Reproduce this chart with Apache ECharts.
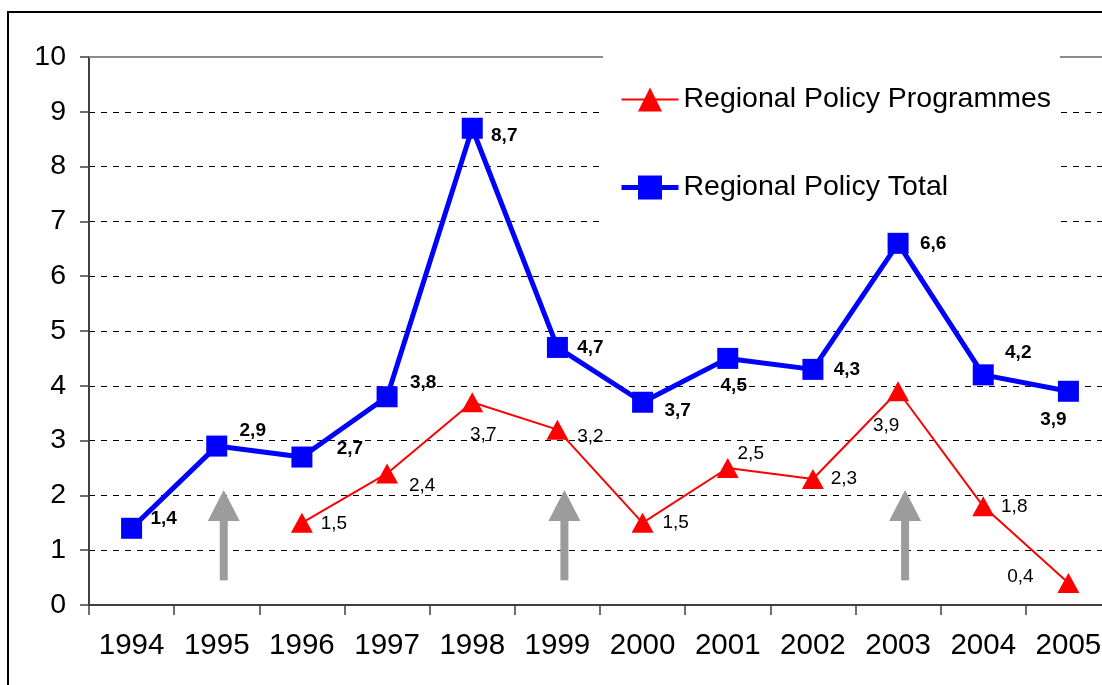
<!DOCTYPE html>
<html>
<head>
<meta charset="utf-8">
<script src="https://cdn.jsdelivr.net/npm/echarts@6/dist/echarts.min.js"></script>
<style>
  html, body { margin: 0; padding: 0; overflow: hidden; background: #fff; }
  #chart { width: 1120px; height: 685px; }
</style>
</head>
<body>
<div id="chart"></div>
<script>
const years = ['1994', '1995', '1996', '1997', '1998', '1999', '2000', '2001', '2002', '2003', '2004', '2005'];
const programmes = [null, null, 1.5, 2.4, 3.7, 3.2, 1.5, 2.5, 2.3, 3.9, 1.8, 0.4];
const total = [1.4, 2.9, 2.7, 3.8, 8.7, 4.7, 3.7, 4.5, 4.3, 6.6, 4.2, 3.9];
const yTicks = [0, 1, 2, 3, 4, 5, 6, 7, 8, 9, 10];

// gray arrows marking programme periods
const arrowYears = ['1995', '1999', '2003'];
const arrowFrom = [0.45, 0.45, 0.45];
const arrowTo = [2.1, 2.1, 2.1];

const FONT = '"Liberation Sans", Arial, sans-serif';

// label offsets (px) so labels sit where the original put them
const totalOffsets = [[32, -10], [36, -15], [48, -8], [36, -14], [32, 8], [33, 0],
  [35, 9], [6, 27], [34, 0], [35, 0], [35, -22], [-15, 28]];
const progOffsets = [null, null, [32, 1], [35, 12], [11, 33], [33, 7],
  [33, 0], [23, -14], [31, 0], [-12, 34], [31, 0], [-48, -6]];

const fmt = v => v.toFixed(1).replace('.', ',');

const chart = echarts.init(document.getElementById('chart'));

const options = {
  animation: false,
  textStyle: { fontFamily: FONT },
  graphic: [{
    type: 'rect',
    shape: { x: 8, y: 12, width: 1300, height: 900 },
    style: { fill: 'none', stroke: '#000', lineWidth: 2 },
    silent: true
  }],
  grid: { left: 89, right: 9, top: 57, bottom: 80 },
  legend: {
    orient: 'vertical',
    left: 603,
    top: 50,
    padding: [35, 9, 46, 16],
    itemGap: 59,
    itemWidth: 57,
    itemHeight: 30,
    backgroundColor: '#fff',
    textStyle: { fontSize: 28.5, color: '#000', fontFamily: FONT },
    data: [
      { name: 'Regional Policy Programmes', lineStyle: { width: 2 } },
      { name: 'Regional Policy Total', lineStyle: { width: 5 } }
    ]
  },
  xAxis: [
    {
      type: 'category',
      data: years,
      axisLine: { lineStyle: { color: '#404040', width: 2 } },
      axisTick: { show: true, length: 10, lineStyle: { color: '#404040', width: 1.5 } },
      axisLabel: { fontSize: 29.5, color: '#000', margin: 26, interval: 0 }
    },
    {
      type: 'category',
      data: years,
      position: 'top',
      axisLine: { lineStyle: { color: '#8c8c8c', width: 2 } },
      axisTick: { show: false },
      axisLabel: { show: false }
    }
  ],
  yAxis: {
    type: 'value',
    min: yTicks[0],
    max: yTicks[yTicks.length - 1],
    interval: 1,
    axisLine: { show: true, lineStyle: { color: '#404040', width: 2 } },
    axisTick: { show: true, length: 9, lineStyle: { color: '#404040', width: 1.5 } },
    axisLabel: { fontSize: 28.5, color: '#000', margin: 23 },
    splitLine: { lineStyle: { color: '#000', type: [6, 6], width: 1 } }
  },
  series: [
    {
      name: 'Regional Policy Programmes',
      type: 'line',
      data: programmes.map((v, i) => v === null ? null : {
        value: v,
        label: { offset: progOffsets[i] }
      }),
      color: '#ff0000',
      lineStyle: { color: '#ff0000', width: 2 },
      symbol: 'triangle',
      symbolSize: [22, 20],
      itemStyle: { color: '#ff0000' },
      z: 3,
      label: {
        show: true,
        position: 'inside',
        fontSize: 19,
        color: '#000',
        formatter: p => fmt(p.value)
      }
    },
    {
      name: 'Regional Policy Total',
      type: 'line',
      data: total.map((v, i) => ({ value: v, label: { offset: totalOffsets[i] } })),
      color: '#0000ff',
      lineStyle: { color: '#0000ff', width: 5 },
      symbol: 'rect',
      symbolSize: 21,
      itemStyle: { color: '#0000ff' },
      z: 4,
      label: {
        show: true,
        position: 'inside',
        fontSize: 19,
        fontWeight: 'bold',
        color: '#000',
        formatter: p => fmt(p.value)
      }
    },
    {
      name: 'arrows',
      type: 'custom',
      z: 2,
      data: arrowYears.map((y, i) => [y, arrowFrom[i], arrowTo[i]]),
      renderItem: (params, api) => {
        const bottom = api.coord([api.value(0), api.value(1)]);
        const tip = api.coord([api.value(0), api.value(2)]);
        const x = bottom[0] + 7;
        const headH = 31, headW = 32, shaftW = 8;
        return {
          type: 'group',
          children: [
            {
              type: 'rect',
              shape: { x: x - shaftW / 2, y: tip[1] + headH - 1, width: shaftW, height: bottom[1] - tip[1] - headH + 1 },
              style: { fill: '#9c9c9c' }
            },
            {
              type: 'polygon',
              shape: { points: [[x, tip[1]], [x - headW / 2, tip[1] + headH], [x + headW / 2, tip[1] + headH]] },
              style: { fill: '#9c9c9c' }
            }
          ]
        };
      }
    }
  ]
};

chart.setOption(options);
</script>
</body>
</html>
